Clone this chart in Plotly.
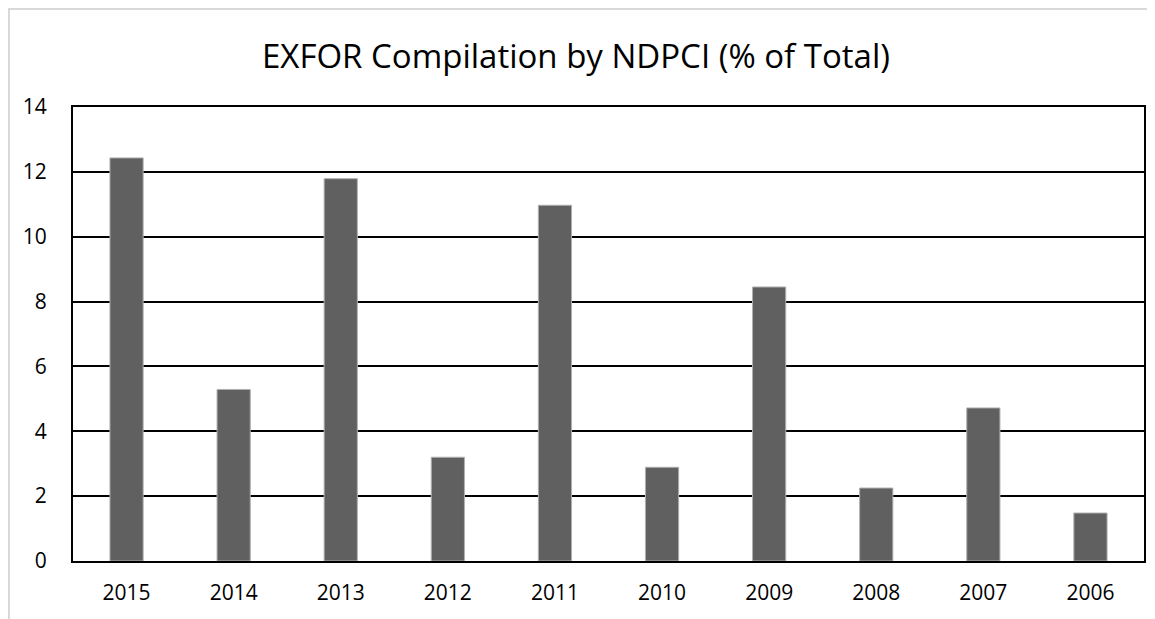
import plotly.graph_objects as go

years = ["2015", "2014", "2013", "2012", "2011", "2010", "2009", "2008", "2007", "2006"]
percent = [12.43, 5.29, 11.79, 3.20, 10.97, 2.89, 8.45, 2.25, 4.72, 1.48]
y_ticks = [0, 2, 4, 6, 8, 10, 12, 14]

W, H = 1155, 619
OFF = 8  # page body margin offset
L, T = 73 - OFF, 107 - OFF
R = W - (1144 - OFF)
B = H - (561 - OFF)
pw, ph = W - L - R, H - T - B

fig = go.Figure(go.Bar(
    x=years, y=percent,
    marker=dict(color="#606060", line=dict(color="#b0b0b0", width=1)),
    width=0.31,
))

def px_x(p):
    return (p - L) / pw

def px_y(p):
    return (H - B - p) / ph

fig.add_shape(type="rect", xref="paper", yref="paper",
              x0=px_x(1), x1=px_x(W + 20), y0=px_y(H + 20), y1=px_y(1),
              line=dict(color="#d9d9d9", width=2), layer="below")

fig.update_layout(
    width=W, height=H,
    margin=dict(l=L, r=R, t=T, b=B),
    paper_bgcolor="white", plot_bgcolor="white",
    title=dict(text="EXFOR Compilation by NDPCI (% of Total)", x=568 / W, xref="container",
               xanchor="center", y=1 - 48 / H, yanchor="middle",
               font=dict(family="Open Sans", size=33, color="#000000")),
    font=dict(family="Open Sans", color="#000000"),
    showlegend=False,
    xaxis=dict(showline=True, linecolor="#000000", linewidth=2, mirror=True,
               showgrid=False, tickfont=dict(size=21), ticks="", ticklabelstandoff=12),
    yaxis=dict(range=[0, 14], tickvals=y_ticks, showline=True, linecolor="#000000",
               linewidth=2, mirror=True, showgrid=True, gridcolor="#000000", gridwidth=2,
               zeroline=False, tickfont=dict(size=21), ticks="", ticklabelstandoff=20),
)

fig.write_html("out.html")
